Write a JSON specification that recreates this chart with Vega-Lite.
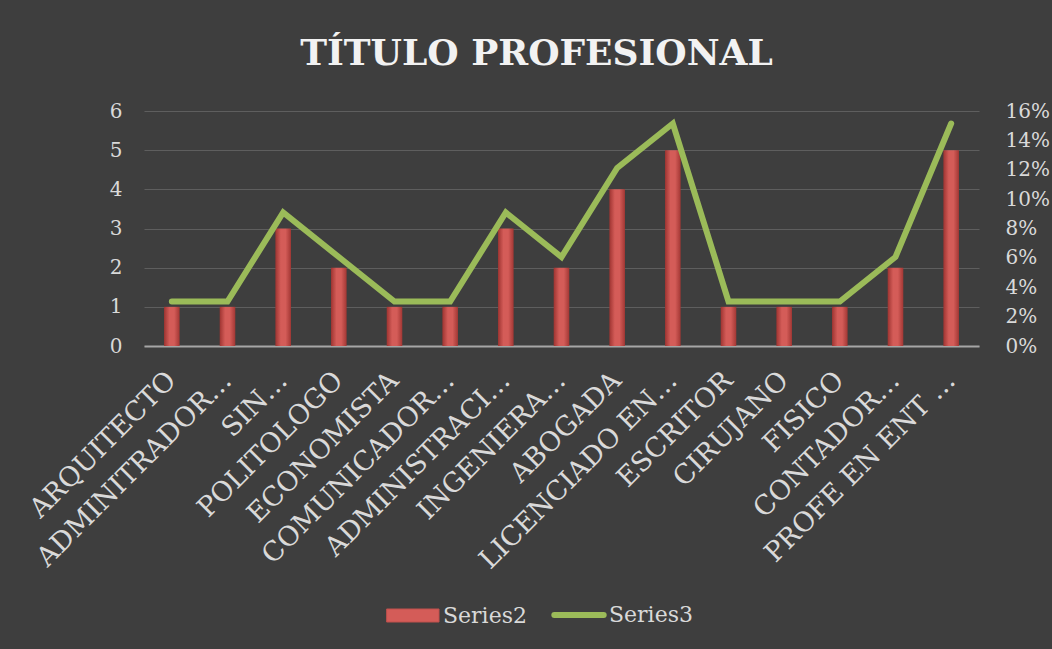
{
  "$schema": "https://vega.github.io/schema/vega-lite/v6.json",
  "autosize": "none",
  "width": 835,
  "height": 235,
  "padding": {"left": 144, "top": 111, "right": 73, "bottom": 303},
  "background": "#3e3e3e",
  "title": {
    "text": "TÍTULO PROFESIONAL",
    "font": "DejaVu Serif",
    "fontSize": 36,
    "fontWeight": "bold",
    "color": "#f2f2f2",
    "anchor": "middle",
    "frame": "group",
    "dx": -25,
    "offset": 28
  },
  "config": {
    "view": {"stroke": null},
    "axis": {"labelFont": "DejaVu Serif", "labelColor": "#d9d9d9", "labelFontSize": 20, "ticks": false, "domain": false, "gridColor": "#5e5e5e", "gridWidth": 1},
    "legend": {"labelFont": "DejaVu Serif", "labelColor": "#d9d9d9", "labelFontSize": 22}
  },
  "data": {
    "values": [
      {"cat": "ARQUITECTO", "count": 1, "pct": 0.0303},
      {"cat": "ADMINITRADOR…", "count": 1, "pct": 0.0303},
      {"cat": "SIN…", "count": 3, "pct": 0.0909},
      {"cat": "POLITOLOGO", "count": 2, "pct": 0.0606},
      {"cat": "ECONOMISTA", "count": 1, "pct": 0.0303},
      {"cat": "COMUNICADOR…", "count": 1, "pct": 0.0303},
      {"cat": "ADMINISTRACI…", "count": 3, "pct": 0.0909},
      {"cat": "INGENIERA…", "count": 2, "pct": 0.0606},
      {"cat": "ABOGADA", "count": 4, "pct": 0.1212},
      {"cat": "LICENCIADO EN…", "count": 5, "pct": 0.1515},
      {"cat": "ESCRITOR", "count": 1, "pct": 0.0303},
      {"cat": "CIRUJANO", "count": 1, "pct": 0.0303},
      {"cat": "FISICO", "count": 1, "pct": 0.0303},
      {"cat": "CONTADOR…", "count": 2, "pct": 0.0606},
      {"cat": "PROFE EN ENT …", "count": 5, "pct": 0.1515}
    ]
  },
  "encoding": {
    "x": {
      "field": "cat",
      "type": "nominal",
      "sort": null,
      "title": null,
      "scale": {"paddingInner": 0.72, "paddingOuter": 0.36},
      "axis": {"labelAngle": -45, "labelAlign": "right", "labelBaseline": "middle", "labelPadding": 30, "domain": true, "domainColor": "#a6a6a6", "domainWidth": 2, "labelFontSize": 27, "labelLimit": 400, "labelOverlap": false}
    }
  },
  "layer": [
    {
      "mark": {
        "type": "bar",
        "fill": {
          "gradient": "linear", "x1": 0, "x2": 1, "y1": 0, "y2": 0,
          "stops": [
            {"offset": 0, "color": "#9e3431"},
            {"offset": 0.35, "color": "#d45c58"},
            {"offset": 0.65, "color": "#d45c58"},
            {"offset": 1, "color": "#a23734"}
          ]
        }
      },
      "encoding": {
        "y": {
          "field": "count", "type": "quantitative", "title": null,
          "scale": {"domain": [0, 6]},
          "axis": {"orient": "left", "values": [0, 1, 2, 3, 4, 5, 6], "labelPadding": 22, "grid": true}
        }
      }
    },
    {
      "mark": {"type": "line", "strokeWidth": 6, "strokeCap": "round", "strokeJoin": "miter"},
      "encoding": {
        "y": {
          "field": "pct", "type": "quantitative", "title": null,
          "scale": {"domain": [0, 0.16]},
          "axis": {"orient": "right", "values": [0, 0.02, 0.04, 0.06, 0.08, 0.1, 0.12, 0.14, 0.16], "format": ".0%", "labelPadding": 26, "grid": false}
        },
        "color": {
          "datum": "Series3",
          "scale": {"domain": ["Series2", "Series3"], "range": ["#c0504d", "#9bbb59"]},
          "legend": {
            "title": null,
            "orient": "none",
            "legendX": 258,
            "legendY": 493,
            "direction": "horizontal",
            "symbolSize": 2704,
            "columnPadding": 15,
            "labelOffset": 19,
            "encode": {
              "symbols": {
                "update": {
                  "shape": {"signal": "datum.value === 'Series2' ? 'M-1,-0.25H1V0.25H-1Z' : 'M-0.95,0H0.95'"},
                  "fill": {"signal": "datum.value === 'Series2' ? '#d45c58' : 'transparent'"},
                  "stroke": {"signal": "datum.value === 'Series2' ? '#9e3431' : '#9bbb59'"},
                  "strokeWidth": {"signal": "datum.value === 'Series2' ? 1 : 6"},
                  "strokeCap": {"value": "round"},
                  "opacity": {"value": 1}
                }
              }
            }
          }
        }
      }
    }
  ],
  "resolve": {"scale": {"y": "independent"}}
}
